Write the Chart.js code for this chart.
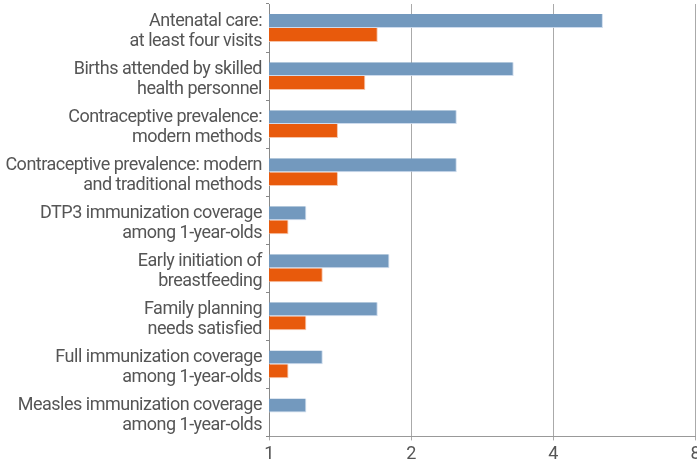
<!DOCTYPE html>
<html>
<head>
<meta charset="utf-8">
<script src="https://cdn.jsdelivr.net/npm/chart.js@4/dist/chart.umd.min.js"></script>
<style>
html,body{margin:0;padding:0;background:#fff;overflow:hidden;}
#wrap{position:relative;width:703px;height:468px;}
</style>
</head>
<body>
<div id="wrap"><canvas id="c"></canvas></div>
<script>
const categories = [
  ["Antenatal care:", "at least four visits"],
  ["Births attended by skilled", "health personnel"],
  ["Contraceptive prevalence:", "modern methods"],
  ["Contraceptive prevalence: modern", "and traditional methods"],
  ["DTP3 immunization coverage", "among 1-year-olds"],
  ["Early initiation of", "breastfeeding"],
  ["Family planning", "needs satisfied"],
  ["Full immunization coverage", "among 1-year-olds"],
  ["Measles immunization coverage", "among 1-year-olds"]
];
const seriesBlue = [5.1, 3.3, 2.5, 2.5, 1.2, 1.8, 1.7, 1.3, 1.2];
const seriesOrange = [1.7, 1.6, 1.4, 1.4, 1.1, 1.3, 1.2, 1.1, null];
const tickValues = [1, 2, 4, 8];

const FONT = "Roboto, sans-serif";
const tightText = {
  id: 'tightText',
  beforeLayout(chart) { chart.ctx.letterSpacing = '-0.5px'; },
  beforeDraw(chart) { chart.ctx.letterSpacing = '-0.5px'; }
};
new Chart(document.getElementById('c'), {
  type: 'bar',
  plugins: [tightText],
  data: {
    labels: categories,
    datasets: [
      { label: 'A', data: seriesBlue, backgroundColor: '#7399be', borderColor: 'rgba(200,215,235,0.9)', borderWidth: {right:1,bottom:1}, categoryPercentage: 0.58, barPercentage: 1.0 },
      { label: 'B', data: seriesOrange, backgroundColor: '#e85a0c', borderColor: 'rgba(245,190,160,0.9)', borderWidth: {right:1,bottom:1}, categoryPercentage: 0.58, barPercentage: 1.0 }
    ]
  },
  options: {
    indexAxis: 'y',
    responsive: true,
    maintainAspectRatio: false,
    animation: false,
    layout: { padding: { top: 4, left: 0, right: 0, bottom: 0 } },
    plugins: { legend: { display: false }, tooltip: { enabled: false } },
    scales: {
      x: {
        type: 'logarithmic',
        min: 1, max: 8,
        afterBuildTicks: (s) => { s.ticks = tickValues.map(v => ({ value: v })); },
        ticks: { color: '#555', font: { family: FONT, size: 18 }, padding: 3, callback: (v) => String(v), autoSkip: false, maxRotation: 0 },
        grid: { color: '#aaa', lineWidth: 1, tickLength: 4, drawTicks: true },
        border: { color: '#999', width: 1 }
      },
      y: {
        ticks: { color: '#555', font: { family: FONT, size: 18, lineHeight: 1.11 }, padding: 4, labelOffset: 3 },
        grid: { display: true, drawOnChartArea: false, drawTicks: true, tickLength: 3, color: '#888', offset: true },
        border: { color: '#888', width: 1 },
        afterFit: (s) => { s.width = 269; s.paddingTop = 0; s.paddingBottom = 0; }
      }
    }
  }
});
</script>
</body>
</html>
